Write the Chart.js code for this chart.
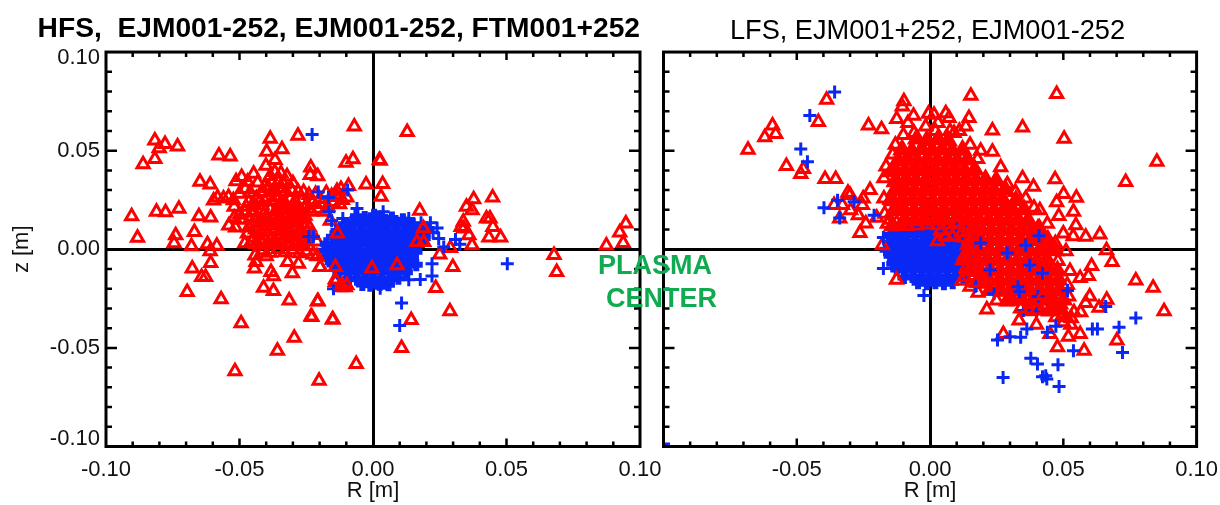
<!DOCTYPE html>
<html>
<head>
<meta charset="utf-8">
<title>HFS / LFS</title>
<script src="https://cdn.jsdelivr.net/npm/chart.js@4"></script>
<style>
	html, body { margin: 0; padding: 0; background: #fff; }
	#wrapper { position: relative; width: 1220px; height: 505px; overflow: hidden; }
	canvas { position: absolute; top: 0; }
	#hfs { left: 0; }
	#lfs { left: 651px; }
	.plasma { position: absolute; font: bold 27px "Liberation Sans", Arial, sans-serif; color: #10ab50; white-space: nowrap; line-height: 30px; }
</style>
</head>
<body>
<div id="wrapper">
	<canvas id="hfs" width="678" height="505"></canvas>
	<canvas id="lfs" width="577" height="505"></canvas>
	<div class="plasma" style="left:598px;top:250px">PLASMA</div>
	<div class="plasma" style="left:606px;top:283px">CENTER</div>
</div>
<script>
const rTicks = [-0.10, -0.05, 0, 0.05, 0.10];
const zTicks = [-0.10, -0.05, 0, 0.05, 0.10];
const minorTicks = [-0.09, -0.08, -0.07, -0.06, -0.04, -0.03, -0.02, -0.01, 0.01, 0.02, 0.03, 0.04, 0.06, 0.07, 0.08, 0.09];

const hfsTitle = 'HFS,  EJM001-252, EJM001-252, FTM001+252';
const lfsTitle = 'LFS, EJM001+252, EJM001-252';

// left panel, values as [R, z]
const hfsRed = [
	[-0.0904,0.0168],[-0.0882,0.0058],[-0.0861,0.0431],[-0.0817,0.0458],[-0.0817,0.0551],[-0.0801,0.0512],[-0.0779,0.0534],[-0.0732,0.0521],
	[-0.0811,0.0190],[-0.0777,0.0188],[-0.0727,0.0205],[-0.0739,0.0071],[-0.0669,0.0088],[-0.0652,0.0168],[-0.0608,0.0161],[-0.0648,0.0342],
	[-0.0610,0.0329],[-0.0577,0.0475],[-0.0535,0.0470],[-0.0385,0.0560],[-0.0281,0.0575],[-0.0070,0.0622],[-0.0398,0.0495],[-0.0341,0.0507],
	[-0.0367,0.0453],[-0.0401,0.0424],[-0.0101,0.0439],[-0.0075,0.0456],[0.0027,0.0449],[-0.0233,0.0414],[-0.0235,0.0377],[-0.0207,0.0370],
	[0.0128,0.0595],[0.0024,0.0453],[0.0036,0.0331],[0.0030,0.0266],[-0.0026,0.0329],[-0.0092,0.0321],[0.0175,0.0195],[0.0377,0.0253],
	[0.0448,0.0263],[0.0350,0.0215],[0.0371,0.0198],[0.0425,0.0156],[0.0438,0.0156],[0.0449,0.0113],[0.0338,0.0139],[0.0330,0.0113],
	[0.0340,0.0105],[0.0359,0.0071],[0.0371,0.0020],[0.0434,0.0060],[0.0478,0.0060],[0.0290,0.0007],[0.0250,-0.0027],[0.0299,-0.0090],
	[0.0235,-0.0197],[0.0288,-0.0314],[0.0143,-0.0358],[0.0107,-0.0500],[-0.0063,-0.0582],[0.0678,-0.0029],[0.0688,-0.0115],[0.0874,0.0019],
	[0.0937,0.0032],[0.0924,0.0085],[0.0947,0.0131],[-0.0208,-0.0265],[-0.0229,-0.0344],[-0.0150,-0.0356],[-0.0202,-0.0667],[-0.0677,-0.0098],
	[-0.0608,-0.0070],[-0.0642,-0.0141],[-0.0627,-0.0141],[-0.0696,-0.0217],[-0.0569,-0.0254],[-0.0494,-0.0375],[-0.0517,-0.0619],[-0.0358,-0.0514],
	[-0.0295,-0.0449],[-0.0232,-0.0341],[-0.0152,-0.0356],[-0.0206,-0.0263],[-0.0314,-0.0260],[-0.0373,-0.0212],[-0.0410,-0.0195],[-0.0373,-0.0137],
	[-0.0382,-0.0115],[-0.0444,-0.0098],[-0.0438,-0.0065],[-0.0442,-0.0031],[-0.0302,-0.0121],[-0.0320,-0.0065],[-0.0279,-0.0073],[-0.0198,-0.0090],
	[-0.0141,-0.0166],[-0.0123,-0.0192],[-0.0104,-0.0192],[-0.0745,0.0030],[-0.0680,0.0015],[-0.0620,0.0025],[-0.0585,0.0018],[-0.0610,-0.0010],
	[-0.0597,0.0247],[-0.0582,0.0262],[-0.0560,0.0258],[-0.0541,0.0265],[-0.0523,0.0249],[-0.0500,0.0281],[-0.0479,0.0305],[-0.0513,0.0345],
	[-0.0492,0.0367],[-0.0470,0.0342],[-0.0447,0.0383],[-0.0432,0.0338],[-0.0460,0.0288],[-0.0437,0.0259],[-0.0415,0.0222],[-0.0385,0.0372],
	[-0.0368,0.0392],[-0.0345,0.0385],[-0.0322,0.0370],[-0.0390,0.0310],[-0.0372,0.0295],[-0.0350,0.0310],[-0.0328,0.0290],[-0.0305,0.0300],
	[-0.0410,0.0290],[-0.0395,0.0262],[-0.0375,0.0245],[-0.0352,0.0262],[-0.0332,0.0240],[-0.0310,0.0255],[-0.0288,0.0235],[-0.0265,0.0250],
	[-0.0248,0.0225],[-0.0225,0.0240],[-0.0200,0.0255],[-0.0175,0.0285],[-0.0155,0.0270],[-0.0135,0.0265],[-0.0115,0.0250],[-0.0098,0.0262],
	[-0.0135,0.0295],[-0.0120,0.0305],[-0.0520,0.0160],[-0.0490,0.0150],[-0.0540,0.0120],[-0.0515,0.0110],[-0.0500,0.0175],[-0.0520,0.0215],
	[-0.0475,0.0215],[-0.0455,0.0185],[-0.0435,0.0165],[-0.0410,0.0175],[-0.0385,0.0200],[-0.0365,0.0190],[-0.0345,0.0205],[-0.0325,0.0180],
	[-0.0300,0.0195],[-0.0280,0.0180],[-0.0255,0.0170],[-0.0230,0.0190],[-0.0205,0.0205],[-0.0180,0.0190],[-0.0160,0.0145],[-0.0450,0.0130],
	[-0.0430,0.0115],[-0.0405,0.0135],[-0.0380,0.0120],[-0.0360,0.0145],[-0.0335,0.0125],[-0.0310,0.0140],[-0.0285,0.0115],[-0.0260,0.0130],
	[-0.0238,0.0110],[-0.0470,0.0080],[-0.0445,0.0060],[-0.0420,0.0085],[-0.0395,0.0070],[-0.0372,0.0090],[-0.0350,0.0065],[-0.0325,0.0080],
	[-0.0300,0.0060],[-0.0278,0.0075],[-0.0255,0.0060],[-0.0230,0.0072],[-0.0210,0.0040],[-0.0440,0.0025],[-0.0415,0.0035],[-0.0390,0.0020],
	[-0.0365,0.0038],[-0.0340,0.0022],[-0.0315,0.0032],[-0.0292,0.0018],[-0.0265,0.0030],[-0.0240,0.0015],[-0.0410,-0.0005],[-0.0385,-0.0018],
	[-0.0355,0.0002],[-0.0330,-0.0015],[-0.0300,-0.0002],[-0.0275,-0.0020],[-0.0250,-0.0010],[-0.0225,-0.0028],[-0.0480,0.0030],[-0.0400,-0.0035],
	[-0.0365,0.0105],[-0.0342,0.0092],[-0.0318,0.0108],[-0.0295,0.0088],[-0.0270,0.0100],[-0.0248,0.0085],[-0.0405,0.0100],[-0.0382,0.0052],
	[-0.0358,0.0070],[-0.0333,0.0048],[-0.0308,0.0062],[-0.0285,0.0045],[-0.0262,0.0042],[-0.0395,0.0160],[-0.0372,0.0170],[-0.0350,0.0160],
	[-0.0328,0.0155],[-0.0305,0.0165],[-0.0282,0.0150],[-0.0262,0.0155],[-0.0350,0.0228],[-0.0325,0.0218],[-0.0300,0.0225],[-0.0280,0.0212],
	[-0.0258,0.0205],[-0.0190,0.0230],[-0.0170,0.0215],[-0.0150,0.0240],[-0.0125,0.0228],[-0.0465,0.0240],[-0.0445,0.0225],[-0.0425,0.0240],
	[-0.0405,0.0245],[-0.0480,0.0190],[-0.0460,0.0155],[-0.0440,0.0100],[-0.0465,0.0110],[-0.0455,0.0040],[-0.0425,0.0050],[-0.0420,0.0150],
	[-0.0405,0.0320],[-0.0380,0.0340],[-0.0355,0.0340],[-0.0335,0.0330],[-0.0300,0.0335],[-0.0280,0.0290],[-0.0260,0.0290],[-0.0240,0.0275],
	[-0.0215,0.0280]
];
const hfsBlue = [
	[0.0503,-0.0073],[0.0107,-0.0273],[0.0100,-0.0387],[-0.0228,0.0582],[0.0221,-0.0073],[0.0221,-0.0136],[0.0177,-0.0153],[0.0134,-0.0154],
	[0.0309,0.0049],[0.0325,0.0025],[0.0265,0.0012],[0.0246,0.0054],[0.0240,0.0108],[0.0134,0.0156],[0.0038,0.0190],[-0.0060,0.0207],
	[-0.0113,0.0156],[-0.0167,0.0263],[-0.0223,0.0063],[-0.0148,-0.0200],[0.0027,-0.0198],[-0.0095,0.0300],[-0.0205,0.0290],[-0.0165,0.0190],
	[-0.0155,0.0145],[-0.0240,0.0065],[0.0215,0.0135],[0.0180,0.0135],[0.0225,0.0085]
];
const hfsBlueCore = [
	[-0.0062,0.0168],[-0.0031,0.0161],[0.0004,0.0172],[0.0033,0.0163],[0.0071,0.0158],[0.0112,0.0150],
	[-0.0108,0.0127],[-0.0078,0.0134],[-0.0046,0.0125],[-0.0012,0.0133],[0.0019,0.0128],[0.0052,0.0131],[0.0083,0.0126],[0.0116,0.0132],[0.0149,0.0124],
	[-0.0135,0.0092],[-0.0104,0.0098],[-0.0072,0.0090],[-0.0038,0.0096],[-0.0009,0.0092],[0.0026,0.0099],[0.0057,0.0091],[0.0088,0.0097],[0.0121,0.0093],[0.0152,0.0098],[0.0183,0.0092],[0.0205,0.0096],
	[-0.0152,0.0063],[-0.0121,0.0057],[-0.0090,0.0062],[-0.0058,0.0056],[-0.0027,0.0061],[0.0006,0.0058],[0.0037,0.0063],[0.0069,0.0056],[0.0098,0.0062],[0.0131,0.0058],[0.0164,0.0061],[0.0192,0.0056],
	[-0.0175,0.0028],[-0.0143,0.0022],[-0.0112,0.0027],[-0.0080,0.0021],[-0.0049,0.0026],[-0.0016,0.0023],[0.0015,0.0028],[0.0047,0.0022],[0.0078,0.0027],[0.0110,0.0021],[0.0142,0.0026],[0.0170,0.0022],
	[-0.0182,-0.0008],[-0.0151,-0.0014],[-0.0118,-0.0007],[-0.0088,-0.0012],[-0.0055,-0.0008],[-0.0023,-0.0013],[0.0008,-0.0007],[0.0039,-0.0012],[0.0072,-0.0008],[0.0103,-0.0013],[0.0135,-0.0007],[0.0161,-0.0012],
	[-0.0170,-0.0048],[-0.0139,-0.0042],[-0.0107,-0.0047],[-0.0076,-0.0041],[-0.0043,-0.0046],[-0.0012,-0.0043],[0.0020,-0.0048],[0.0052,-0.0042],[0.0083,-0.0047],[0.0115,-0.0043],[0.0146,-0.0046],
	[-0.0150,-0.0077],[-0.0120,-0.0083],[-0.0088,-0.0078],[-0.0056,-0.0082],[-0.0025,-0.0077],[0.0007,-0.0083],[0.0038,-0.0078],[0.0070,-0.0082],[0.0102,-0.0077],[0.0134,-0.0083],[0.0162,-0.0079],
	[-0.0128,-0.0118],[-0.0097,-0.0112],[-0.0065,-0.0117],[-0.0033,-0.0113],[-0.0002,-0.0118],[0.0030,-0.0112],[0.0062,-0.0117],[0.0093,-0.0113],[0.0125,-0.0116],
	[-0.0090,-0.0148],[-0.0060,-0.0152],[-0.0028,-0.0147],[0.0003,-0.0153],[0.0036,-0.0148],[0.0068,-0.0151],[0.0095,-0.0147],
	[-0.0040,-0.0178],[-0.0010,-0.0182],[0.0025,-0.0177],[0.0058,-0.0180]
];
const hfsRedTop = [
	[-0.0004,-0.0098],[0.0090,-0.0081],[0.0165,0.0037],[0.0190,0.0037],[-0.0133,0.0080],[-0.0141,-0.0090],[-0.0141,-0.0153],[-0.0098,-0.0183],
	[-0.0116,-0.0183],[-0.0198,-0.0090],[-0.0210,-0.0036],[0.0189,0.0107]
];

// right panel
const lfsRed = [
	[-0.0683,0.0504],[-0.0620,0.0568],[-0.0591,0.0627],[-0.0579,0.0585],[-0.0539,0.0422],[-0.0485,0.0382],[-0.0475,0.0407],[-0.0419,0.0645],
	[-0.0388,0.0758],[-0.0394,0.0356],[-0.0354,0.0356],[-0.0308,0.0287],[-0.0300,0.0275],[-0.0225,0.0300],[-0.0231,0.0627],[-0.0182,0.0609],
	[-0.0173,0.0360],[-0.0173,0.0258],[-0.0251,0.0258],[-0.0360,0.0224],[-0.0329,0.0224],[-0.0339,0.0156],[-0.0298,0.0198],[-0.0269,0.0173],
	[-0.0263,0.0083],[-0.0241,0.0131],[-0.0179,0.0020],[-0.0126,-0.0154],[-0.0254,0.0224],[-0.0200,0.0160],[-0.0160,0.0130],[-0.0110,0.0122],
	[-0.0098,0.0750],[-0.0104,0.0724],[-0.0125,0.0660],[-0.0062,0.0677],[-0.0083,0.0640],[-0.0006,0.0687],[0.0015,0.0682],[0.0059,0.0690],
	[0.0071,0.0665],[-0.0016,0.0622],[-0.0130,0.0530],[-0.0140,0.0480],[-0.0165,0.0420],[-0.0150,0.0390],[-0.0100,0.0580],[-0.0060,0.0590],
	[0.0020,0.0600],[0.0075,0.0600],[0.0030,0.0640],[0.0153,0.0779],[0.0475,0.0787],[0.0347,0.0617],[0.0234,0.0602],[0.0503,0.0560],
	[0.0851,0.0444],[0.0734,0.0341],[0.0469,0.0355],[0.0501,0.0280],[0.0549,0.0261],[0.0475,0.0238],[0.0538,0.0190],[0.0483,0.0169],
	[0.0547,0.0122],[0.0637,0.0075],[0.0584,0.0063],[0.0537,0.0066],[0.0662,-0.0005],[0.0683,-0.0065],[0.0606,-0.0085],[0.0594,-0.0136],
	[0.0563,-0.0146],[0.0772,-0.0158],[0.0837,-0.0195],[0.0878,-0.0314],[0.0663,-0.0256],[0.0599,-0.0239],[0.0584,-0.0273],[0.0634,-0.0297],
	[0.0565,-0.0319],[0.0540,-0.0319],[0.0563,-0.0429],[0.0519,-0.0443],[0.0578,-0.0514],[0.0478,-0.0497],[0.0450,-0.0429],[0.0701,-0.0463],
	[0.0399,-0.0383],[0.0334,-0.0361],[0.0275,-0.0429],[0.0213,-0.0305],[0.0528,-0.0383],[0.0472,-0.0345],[0.0434,-0.0285],[0.0287,-0.0265],
	[0.0234,0.0495],[0.0265,0.0416],[0.0178,0.0458],[0.0146,0.0665],[0.0134,0.0622],[0.0090,0.0589],[0.0347,0.0360],[0.0388,0.0317],
	[0.0412,0.0198],[0.0359,0.0258],[0.0150,0.0530],[0.0190,0.0500],[0.0290,0.0330],[0.0320,0.0290],[0.0390,0.0210],[0.0440,0.0130],
	[0.0410,0.0110],[0.0500,0.0080],[0.0470,0.0030],[0.0510,-0.0010],[0.0480,-0.0060],[0.0525,-0.0110],[0.0515,-0.0180],[0.0520,-0.0240],
	[0.0470,-0.0300],[0.0400,-0.0310],[0.0340,-0.0300],[0.0250,-0.0260],[0.0180,-0.0220],[0.0150,-0.0190],[0.0120,-0.0160],[0.0495,-0.0340],
	[0.0530,-0.0350],[0.0500,-0.0370],[0.0110,0.0600],[-0.0135,0.0340],[-0.0120,0.0300],[-0.0150,0.0250],[-0.0130,0.0200],
	[-0.0150,0.0150],[-0.0125,0.0135],[-0.0170,0.0180],[-0.0145,0.0115],[-0.0090,0.0118],[-0.0050,0.0120],[-0.0010,0.0125],[0.0030,0.0122],
	[0.0070,0.0125],[0.0040,0.0095],[0.0105,0.0130],[0.0135,0.0110],[0.0120,0.0085],[0.0140,0.0020],[0.0130,-0.0030],[0.0135,-0.0095],
	[0.0165,-0.0135],[0.0205,-0.0175],[0.0270,-0.0215],[0.0300,-0.0235],[0.0365,-0.0260],[0.0425,-0.0235],[0.0455,-0.0255],[0.0490,-0.0280]
];
const lfsRedCore = [
	[-0.0050,0.0560],[-0.0012,0.0552],[0.0030,0.0558],[0.0068,0.0550],
	[-0.0105,0.0505],[-0.0068,0.0498],[-0.0030,0.0507],[0.0008,0.0500],[0.0045,0.0506],[0.0083,0.0499],[0.0122,0.0503],
	[-0.0120,0.0450],[-0.0085,0.0457],[-0.0048,0.0448],[-0.0010,0.0456],[0.0028,0.0449],[0.0065,0.0455],[0.0102,0.0448],[0.0140,0.0454],
	[-0.0132,0.0405],[-0.0095,0.0398],[-0.0058,0.0406],[-0.0020,0.0399],[0.0018,0.0404],[0.0055,0.0397],[0.0092,0.0405],[0.0130,0.0398],[0.0168,0.0403],
	[-0.0128,0.0348],[-0.0090,0.0354],[-0.0053,0.0347],[-0.0015,0.0353],[0.0023,0.0348],[0.0060,0.0352],[0.0098,0.0347],[0.0135,0.0354],[0.0172,0.0349],[0.0208,0.0353],[0.0248,0.0348],
	[-0.0132,0.0298],[-0.0095,0.0303],[-0.0058,0.0297],[-0.0020,0.0302],[0.0018,0.0298],[0.0055,0.0304],[0.0092,0.0297],[0.0130,0.0303],[0.0168,0.0298],[0.0205,0.0302],[0.0240,0.0297],[0.0282,0.0302],
	[-0.0140,0.0247],[-0.0103,0.0252],[-0.0065,0.0248],[-0.0028,0.0253],[0.0010,0.0247],[0.0048,0.0251],[0.0085,0.0246],[0.0122,0.0252],[0.0160,0.0247],[0.0198,0.0253],[0.0235,0.0248],[0.0272,0.0252],[0.0322,0.0247],
	[-0.0135,0.0197],[-0.0098,0.0201],[-0.0060,0.0196],[-0.0022,0.0202],[0.0015,0.0197],[0.0052,0.0201],[0.0090,0.0196],[0.0128,0.0202],[0.0165,0.0197],[0.0202,0.0201],[0.0240,0.0196],[0.0278,0.0202],[0.0310,0.0198],[0.0352,0.0202],
	[-0.0095,0.0150],[-0.0058,0.0146],[-0.0020,0.0151],[0.0018,0.0147],[0.0055,0.0152],[0.0105,0.0170],[0.0145,0.0148],[0.0182,0.0152],[0.0220,0.0147],[0.0258,0.0151],[0.0295,0.0146],[0.0330,0.0150],[0.0368,0.0146],
	[0.0155,0.0098],[0.0192,0.0102],[0.0230,0.0097],[0.0268,0.0101],[0.0305,0.0096],[0.0342,0.0100],[0.0372,0.0096],[0.0405,0.0101],
	[0.0150,0.0047],[0.0188,0.0051],[0.0225,0.0046],[0.0262,0.0050],[0.0300,0.0045],[0.0338,0.0049],[0.0375,0.0046],[0.0405,0.0050],[0.0442,0.0046],
	[0.0148,-0.0003],[0.0185,-0.0007],[0.0222,-0.0002],[0.0260,-0.0006],[0.0298,-0.0002],[0.0335,-0.0006],[0.0372,-0.0003],[0.0410,-0.0007],[0.0432,-0.0003],[0.0470,-0.0006],
	[0.0140,-0.0053],[0.0178,-0.0058],[0.0215,-0.0052],[0.0252,-0.0057],[0.0290,-0.0053],[0.0328,-0.0058],[0.0365,-0.0053],[0.0402,-0.0057],[0.0438,-0.0053],
	[0.0150,-0.0105],[0.0188,-0.0110],[0.0225,-0.0104],[0.0262,-0.0109],[0.0300,-0.0105],[0.0338,-0.0110],[0.0375,-0.0105],[0.0412,-0.0109],[0.0445,-0.0105],[0.0478,-0.0109],
	[0.0185,-0.0155],[0.0222,-0.0160],[0.0260,-0.0154],[0.0298,-0.0159],[0.0335,-0.0155],[0.0372,-0.0160],[0.0410,-0.0155],[0.0445,-0.0159],[0.0482,-0.0154],
	[0.0225,-0.0208],[0.0262,-0.0204],[0.0300,-0.0210],[0.0335,-0.0209],[0.0372,-0.0204],[0.0410,-0.0209],[0.0448,-0.0205],[0.0485,-0.0209],
	[0.0300,-0.0260],[0.0345,-0.0255],[0.0385,-0.0262],[0.0425,-0.0256],[0.0465,-0.0261],[0.0500,-0.0256],
	[0.0370,-0.0310],[0.0410,-0.0306],[0.0450,-0.0312],[0.0490,-0.0307]
];
const lfsBlueCore = [
	[-0.0090,0.0145],[-0.0050,0.0138],[-0.0015,0.0146],[0.0025,0.0140],[0.0060,0.0147],[0.0095,0.0140],
	[-0.0130,0.0105],[-0.0100,0.0110],[-0.0070,0.0104],[-0.0038,0.0109],[-0.0005,0.0103],[0.0028,0.0108],[0.0060,0.0103],[0.0092,0.0109],[0.0125,0.0104],[0.0155,0.0108],
	[-0.0148,0.0072],[-0.0118,0.0067],[-0.0086,0.0073],[-0.0054,0.0068],[-0.0022,0.0072],[0.0010,0.0067],[0.0042,0.0073],[0.0074,0.0068],[0.0106,0.0072],[0.0138,0.0067],[0.0166,0.0072],
	[-0.0155,0.0033],[-0.0124,0.0038],[-0.0092,0.0032],[-0.0060,0.0037],[-0.0028,0.0033],[0.0004,0.0038],[0.0036,0.0032],[0.0068,0.0037],[0.0100,0.0033],[0.0132,0.0038],[0.0160,0.0033],
	[-0.0165,-0.0002],[-0.0134,0.0003],[-0.0102,-0.0003],[-0.0070,0.0002],[-0.0038,-0.0002],[-0.0006,0.0003],[0.0026,-0.0003],[0.0058,0.0002],[0.0090,-0.0002],[0.0122,0.0003],[0.0150,-0.0002],
	[-0.0150,-0.0033],[-0.0118,-0.0038],[-0.0086,-0.0032],[-0.0054,-0.0037],[-0.0022,-0.0033],[0.0010,-0.0038],[0.0042,-0.0032],[0.0074,-0.0037],[0.0106,-0.0033],[0.0138,-0.0038],[0.0165,-0.0034],
	[-0.0140,-0.0073],[-0.0108,-0.0067],[-0.0076,-0.0072],[-0.0044,-0.0068],[-0.0012,-0.0073],[0.0020,-0.0067],[0.0052,-0.0072],[0.0084,-0.0068],[0.0116,-0.0073],[0.0148,-0.0068],
	[-0.0125,-0.0103],[-0.0093,-0.0108],[-0.0061,-0.0102],[-0.0029,-0.0107],[0.0003,-0.0103],[0.0035,-0.0108],[0.0067,-0.0102],[0.0099,-0.0107],[0.0131,-0.0103],[0.0160,-0.0108],
	[-0.0098,-0.0143],[-0.0066,-0.0138],[-0.0034,-0.0142],[-0.0002,-0.0137],[0.0030,-0.0143],[0.0062,-0.0138],[0.0094,-0.0142],[0.0125,-0.0138],
	[-0.0045,-0.0170],[-0.0012,-0.0175],[0.0020,-0.0170],[0.0052,-0.0175],[0.0085,-0.0170]
];
const lfsBlue = [
	[-0.0358,0.0797],[-0.0451,0.0678],[-0.0485,0.0509],[-0.0460,0.0444],[-0.0398,0.0210],[-0.0339,0.0158],[-0.0175,-0.0098],[-0.0023,-0.0234],
	[-0.0347,0.0249],[-0.0285,0.0241],[-0.0210,0.0173],[-0.1000,-0.0987],[-0.0175,0.0060],[0.0253,-0.0460],[0.0300,-0.0443],[0.0340,-0.0446],
	[0.0363,-0.0404],[0.0440,-0.0421],[0.0472,-0.0390],[0.0609,-0.0404],[0.0628,-0.0404],[0.0709,-0.0395],[0.0772,-0.0348],[0.0722,-0.0523],
	[0.0538,-0.0514],[0.0480,-0.0585],[0.0403,-0.0582],[0.0378,-0.0553],[0.0274,-0.0650],[0.0422,-0.0646],[0.0434,-0.0641],[0.0438,-0.0658],
	[0.0484,-0.0696],[0.0659,-0.0290],[0.0409,0.0068],[0.0359,0.0020],[0.0374,-0.0081],[0.0422,-0.0121],[0.0516,-0.0209],[0.0171,-0.0188]
];
// specks of blue that show through the red open triangles only
const lfsBlueUnder = [
	[0.0290,-0.0019],[0.0190,0.0032],[0.0330,-0.0190],[0.0405,-0.0240],[0.0400,-0.0310],[0.0350,-0.0310],[0.0240,-0.0225],[0.0335,-0.0215],
	[0.0225,-0.0105]
];
const lfsRedTop = [
	[0.0096,0.0134],[0.0028,0.0041],[0.0059,0.0066],[0.0084,0.0063],[0.0128,0.0060],[0.0122,-0.0056],[0.0172,-0.0170],[0.0130,-0.0140]
];

const frameAndTicks = {
	id: 'frameAndTicks',
	beforeDraw(chart) {
		// the end labels of the z axis sit a little inside the frame
		const y = chart.scales.y;
		for (let item of y.getLabelItems()) {
			if (item.label === '0.10') item.options.translation[1] = y.top + 6;
			if (item.label === '-0.10') item.options.translation[1] = y.bottom - 8;
		}
	},
	afterDraw(chart) {
		const ctx = chart.ctx;
		const {left, right, top, bottom} = chart.chartArea;
		const x = chart.scales.x;
		const y = chart.scales.y;

		ctx.save();
		ctx.strokeStyle = '#000';
		ctx.lineWidth = 2.5;
		ctx.beginPath();
		for (let v of minorTicks) {
			ctx.moveTo(x.getPixelForValue(v), top); ctx.lineTo(x.getPixelForValue(v), top + 5);
			ctx.moveTo(x.getPixelForValue(v), bottom); ctx.lineTo(x.getPixelForValue(v), bottom - 5);
			ctx.moveTo(left, y.getPixelForValue(v)); ctx.lineTo(left + 6, y.getPixelForValue(v));
			ctx.moveTo(right, y.getPixelForValue(v)); ctx.lineTo(right - 6, y.getPixelForValue(v));
		}
		for (let v of [-0.05, 0.05]) {
			ctx.moveTo(x.getPixelForValue(v), top); ctx.lineTo(x.getPixelForValue(v), top + 8);
			ctx.moveTo(x.getPixelForValue(v), bottom); ctx.lineTo(x.getPixelForValue(v), bottom - 8);
			ctx.moveTo(left, y.getPixelForValue(v)); ctx.lineTo(left + 11, y.getPixelForValue(v));
			ctx.moveTo(right, y.getPixelForValue(v)); ctx.lineTo(right - 11, y.getPixelForValue(v));
		}
		ctx.stroke();
		ctx.lineWidth = 3;
		ctx.strokeRect(left, top, right - left, bottom - top);
		ctx.restore();
	}
};

function toPoints(pairs) {
	return pairs.map(function(p) { return {x: p[0], y: p[1]}; });
}

function redSet(pairs, filled) {
	return {
		data: toPoints(pairs),
		pointStyle: 'triangle',
		pointRadius: filled ? 8 : 7,
		borderColor: '#ff0000',
		backgroundColor: filled ? '#ff0000' : 'rgba(0,0,0,0)',
		borderWidth: filled ? 3.5 : 3,
		showLine: false
	};
}

function blueSet(pairs, width) {
	return {
		data: toPoints(pairs),
		pointStyle: 'cross',
		pointRadius: 6.5,
		borderColor: '#0a28f5',
		backgroundColor: '#0a28f5',
		borderWidth: width,
		showLine: false
	};
}

function makeChart(id, title, bold, layers, showZ, padding) {
	const font = '"Liberation Sans", Arial, sans-serif';
	const zeroLine = function(ctx) { return ctx.tick && ctx.tick.value === 0 ? '#000' : 'rgba(0,0,0,0)'; };

	return new Chart(document.getElementById(id), {
		type: 'scatter',
		// Chart.js paints the first dataset last, layers come bottom first
		data: {datasets: layers.slice().reverse()},
		plugins: [frameAndTicks],
		options: {
			responsive: false,
			animation: false,
			layout: {padding: padding},
			plugins: {
				legend: {display: false},
				tooltip: {enabled: false},
				title: {
					display: true,
					text: title,
					color: '#000',
					align: bold ? 'end' : 'center',
					font: {family: font, size: bold ? 28.2 : 27.2, weight: bold ? 'bold' : 'normal', lineHeight: 1.2},
					padding: {top: bold ? 12 : 15, bottom: bold ? 6.2 : 4.4}
				}
			},
			scales: {
				x: {
					type: 'linear',
					min: -0.10,
					max: 0.10,
					afterBuildTicks: function(scale) { scale.ticks = rTicks.map(function(v) { return {value: v}; }); },
					afterFit: function(scale) { scale.height = 58.5; },
					grid: {color: zeroLine, lineWidth: 3, drawTicks: false},
					border: {display: false},
					ticks: {
						color: '#111',
						padding: 10,
						maxRotation: 0,
						autoSkip: false,
						font: {family: font, size: 22},
						callback: function(v) { return (!showZ && v === -0.10) ? '' : v.toFixed(2); }
					},
					title: {display: true, text: 'R [m]', color: '#111', font: {family: font, size: 22}, padding: {top: 0, bottom: 1}}
				},
				y: {
					type: 'linear',
					min: -0.10,
					max: 0.10,
					afterBuildTicks: function(scale) { scale.ticks = zTicks.map(function(v) { return {value: v}; }); },
					afterFit: function(scale) { scale.width = showZ ? 106 : 5; },
					grid: {color: zeroLine, lineWidth: 3, drawTicks: false},
					border: {display: false},
					ticks: {
						display: showZ,
						color: '#111',
						padding: 6,
						autoSkip: false,
						font: {family: font, size: 22},
						callback: function(v) { return v.toFixed(2); }
					},
					title: {display: showZ, text: 'z [m]', color: '#111', font: {family: font, size: 22}, padding: {top: 9, bottom: 0}}
				}
			}
		}
	});
}

makeChart('hfs', hfsTitle, true, [
	redSet(hfsRed, false),
	blueSet(hfsBlueCore, 6),
	blueSet(hfsBlue, 3),
	redSet(hfsRedTop, false)
], true, {left: 0, right: 38, top: 0, bottom: 0});

makeChart('lfs', lfsTitle, false, [
	blueSet(lfsBlueCore, 6),
	redSet(lfsRedCore, true),
	blueSet(lfsBlueUnder, 3),
	redSet(lfsRed, false),
	blueSet(lfsBlue, 3),
	redSet(lfsRedTop, false)
], false, {left: 0, right: 24, top: 0, bottom: 0});
</script>
</body>
</html>
